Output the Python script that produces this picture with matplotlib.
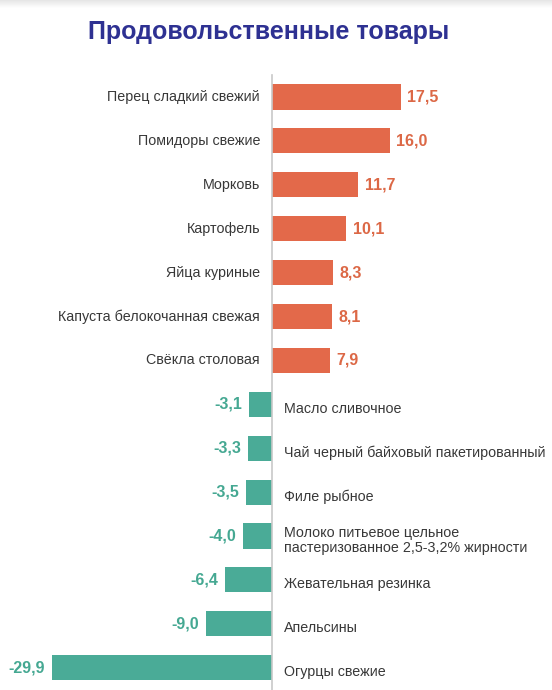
import matplotlib
matplotlib.use("Agg")
import matplotlib.pyplot as plt
import numpy as np

plt.rcParams['font.family'] = ['Liberation Sans', 'DejaVu Sans']

categories = [
    "Перец сладкий свежий",
    "Помидоры свежие",
    "Морковь",
    "Картофель",
    "Яйца куриные",
    "Капуста белокочанная свежая",
    "Свёкла столовая",
    "Масло сливочное",
    "Чай черный байховый пакетированный",
    "Филе рыбное",
    "Молоко питьевое цельное\nпастеризованное 2,5-3,2% жирности",
    "Жевательная резинка",
    "Апельсины",
    "Огурцы свежие",
]
values = [17.5, 16.0, 11.7, 10.1, 8.3, 8.1, 7.9,
          -3.1, -3.3, -3.5, -4.0, -6.4, -9.0, -29.9]
title = "Продовольственные товары"

POS = "#E3694A"
NEG = "#4AAB97"
POS_TXT = "#DC6846"
NEG_TXT = "#45A892"
LBL = "#383838"

W, H = 552, 690
fig = plt.figure(figsize=(W / 100, H / 100), dpi=100)

# faint shadow at the top edge
sh = fig.add_axes([0, 1 - 8 / H, 1, 8 / H])
grad = np.linspace(0.90, 1.0, 32).reshape(-1, 1)
sh.imshow(np.repeat(grad[:, :, None], 3, axis=2), aspect="auto",
          extent=[0, 1, 0, 1], origin="upper")
sh.axis("off")

ax = fig.add_axes([0, 0, 1, 1])
ax.patch.set_alpha(0)

ppu = 7.37        # pixels per data unit
x0 = 272          # pixel of zero
row0, rowh = 97, 43.9
ax.set_xlim(-x0 / ppu, (W - x0) / ppu)
ax.set_ylim((H - row0) / rowh, -row0 / rowh)
ax.axis("off")

ys = list(range(len(values)))
colors = [POS if v >= 0 else NEG for v in values]
ax.barh(ys, values, height=0.57, color=colors, zorder=2)

# vertical axis line
ax.plot([0, 0], [(75 - row0) / rowh, (H - row0) / rowh], color="#C8C8C8",
        lw=1.2, zorder=3, clip_on=False)

off_lbl = 12 / ppu
off_val = 6.5 / ppu
for y, v, c in zip(ys, values, categories):
    txt = f"{v:.1f}".replace(".", ",")
    if v >= 0:
        ax.text(-off_lbl, y, c, ha="right", va="center", fontsize=10.3, color=LBL)
        ax.text(v + off_val, y, txt, ha="left", va="center", fontsize=11.5,
                fontweight="bold", color=POS_TXT)
    else:
        ax.text(off_lbl, y + 0.1, c, ha="left", va="center", fontsize=10.3,
                color=LBL, linespacing=1.15)
        ax.text(v - off_val, y, txt, ha="right", va="center", fontsize=11.5,
                fontweight="bold", color=NEG_TXT)

fig.text(269 / W, 1 - 32 / H, title, ha="center", va="center", fontsize=18,
         fontweight="bold", color="#2E3192")

fig.savefig("out.png", dpi=100)
